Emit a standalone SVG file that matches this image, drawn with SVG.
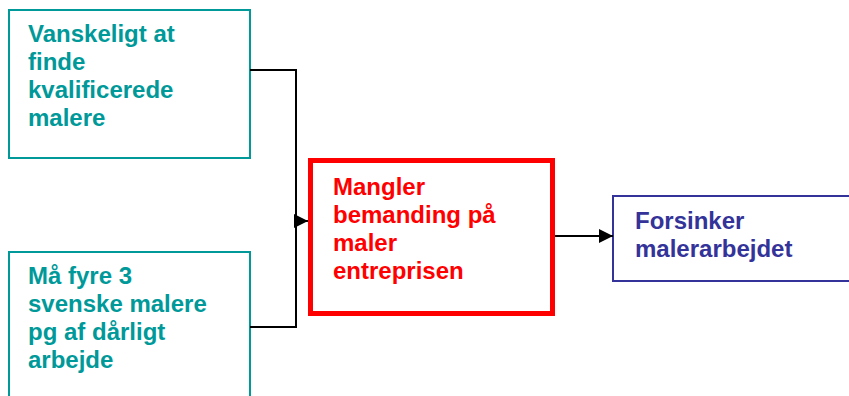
<svg xmlns="http://www.w3.org/2000/svg" width="849" height="396" viewBox="0 0 849 396">
<style>
text{font-family:"Liberation Sans",Arial,sans-serif;font-weight:bold;font-size:24px}
.teal rect{fill:#fff;stroke:#009999;stroke-width:2}
.teal text{fill:#009999}
.conn{fill:none;stroke:#000;stroke-width:2}
</style>
<defs>
<marker id="ah" viewBox="0 0 10 10" refX="10" refY="5" markerWidth="15" markerHeight="14" markerUnits="userSpaceOnUse" orient="auto">
<path d="M0,0 L10,5 L0,10 z" fill="#000"/>
</marker>
</defs>
<rect width="849" height="396" fill="#fff"/>
<g id="n1" class="teal">
<rect x="9" y="10" width="241" height="148"/>
<text x="28" y="42">Vanskeligt at</text>
<text x="28" y="70">finde</text>
<text x="28" y="98">kvalificerede</text>
<text x="28" y="126">malere</text>
</g>
<g id="n2" class="teal">
<rect x="9" y="252" width="241" height="160"/>
<text x="28" y="284">Må fyre 3</text>
<text x="28" y="312">svenske malere</text>
<text x="28" y="340">pg af dårligt</text>
<text x="28" y="368">arbejde</text>
</g>
<g id="n3">
<rect x="310.5" y="160.5" width="242" height="153" fill="#fff" stroke="#ff0000" stroke-width="5"/>
<text x="333" y="195" fill="#ff0000">Mangler</text>
<text x="333" y="223" fill="#ff0000">bemanding på</text>
<text x="333" y="251" fill="#ff0000">maler</text>
<text x="333" y="279" fill="#ff0000">entreprisen</text>
</g>
<g id="n4">
<rect x="613" y="196" width="240" height="85" fill="#fff" stroke="#333399" stroke-width="2"/>
<text x="635" y="229" fill="#333399">Forsinker</text>
<text x="635" y="257" fill="#333399">malerarbejdet</text>
</g>
<g id="connectors">
<path class="conn" d="M250,70 H296 V327 H250"/>
<path class="conn" d="M296,221 H308" marker-end="url(#ah)"/>
<path class="conn" d="M555,236 H613" marker-end="url(#ah)"/>
</g>
</svg>
